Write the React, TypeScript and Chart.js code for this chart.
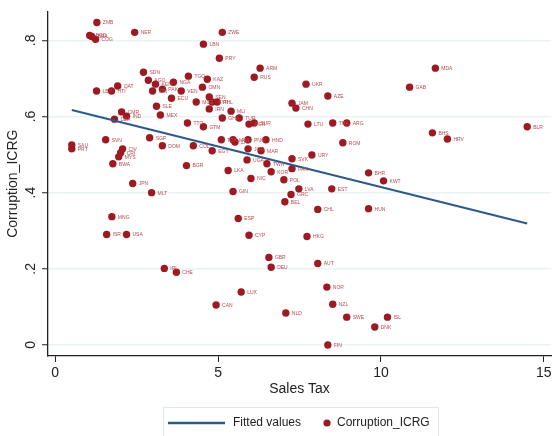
import { useEffect, useRef } from 'react';
import { Chart, registerables } from 'chart.js';
Chart.register(...registerables);

const countries = [
  'ZMB', 'BGD', 'BRA', 'COG', 'NER', 'ZWE', 'LBN', 'PRY', 'ARM', 'RUS',
  'UKR', 'AZE', 'MDA', 'GAB', 'BHS', 'HRV', 'BLR', 'SDN', 'AGO', 'KEN',
  'IDN', 'PAK', 'NGA', 'VEN', 'TGO', 'KAZ', 'OMN', 'ECU', 'SLE', 'MEX',
  'MOZ', 'SEN', 'SYR', 'PHL', 'IRN', 'MLI', 'GHA', 'TUR', 'PER', 'SUR',
  'TTO', 'GTM', 'IND', 'CMR', 'DZA', 'LBY', 'HTI', 'QAT', 'SVN', 'SGP',
  'SAU', 'PRT', 'CIV', 'CRI', 'MYS', 'BWA', 'JPN', 'MLT', 'MNG', 'ISR',
  'USA', 'IRL', 'CHE', 'DOM', 'COL', 'EGY', 'TZA', 'MWI', 'ZAF', 'PNG',
  'HND', 'JOR', 'MAR', 'UGA', 'TWN', 'BGR', 'LKA', 'NIC', 'KOR', 'POL',
  'SVK', 'PAN', 'URY', 'GIN', 'LVA', 'GRC', 'BEL', 'EST', 'CHL', 'ESP',
  'CYP', 'HKG', 'GBR', 'DEU', 'AUT', 'NOR', 'LUX', 'CAN', 'NLD', 'NZL',
  'SWE', 'FIN', 'DNK', 'ISL', 'BHR', 'KWT', 'HUN', 'LTU', 'THA', 'ARG',
  'ROM', 'JAM', 'CHN',
];

const salesTax = [
  1.28, 1.06, 1.12, 1.24, 2.44, 5.13, 4.55, 5.04, 6.29, 6.11,
  7.70, 8.37, 11.67, 10.88, 11.58, 12.04, 14.49, 2.71, 2.86, 3.08,
  2.99, 3.29, 3.63, 3.87, 4.09, 4.67, 4.52, 3.57, 3.11, 3.23,
  4.33, 4.73, 4.82, 4.97, 4.73, 5.40, 5.13, 5.65, 5.95, 6.11,
  4.06, 4.55, 2.19, 2.04, 1.82, 1.27, 1.73, 1.92, 1.55, 2.90,
  0.51, 0.51, 2.07, 2.01, 1.95, 1.77, 2.38, 2.96, 1.74, 1.58,
  2.19, 3.35, 3.72, 3.29, 4.24, 4.82, 5.10, 5.46, 5.52, 5.92,
  6.47, 5.92, 6.32, 5.89, 6.50, 4.03, 5.31, 6.01, 6.63, 7.02,
  7.27, 7.27, 7.88, 5.46, 7.48, 7.24, 7.05, 8.49, 8.06, 5.62,
  5.95, 7.73, 6.56, 6.63, 8.06, 8.34, 5.71, 4.94, 7.08, 8.52,
  8.95, 8.37, 9.81, 10.20, 9.62, 10.08, 9.62, 7.76, 8.52, 8.95,
  8.83, 7.27, 7.39,
];

const corruption = [
  0.847, 0.813, 0.810, 0.803, 0.821, 0.821, 0.790, 0.753, 0.727, 0.703,
  0.685, 0.654, 0.727, 0.677, 0.557, 0.541, 0.573, 0.716, 0.695, 0.685,
  0.667, 0.672, 0.690, 0.667, 0.706, 0.698, 0.677, 0.648, 0.627, 0.604,
  0.638, 0.651, 0.638, 0.638, 0.620, 0.614, 0.596, 0.596, 0.580, 0.583,
  0.583, 0.573, 0.601, 0.612, 0.593, 0.667, 0.667, 0.680, 0.539, 0.544,
  0.525, 0.515, 0.515, 0.505, 0.494, 0.476, 0.424, 0.400, 0.337, 0.290,
  0.290, 0.201, 0.191, 0.523, 0.523, 0.510, 0.539, 0.539, 0.533, 0.539,
  0.539, 0.515, 0.510, 0.486, 0.476, 0.471, 0.458, 0.437, 0.455, 0.434,
  0.489, 0.463, 0.499, 0.403, 0.410, 0.395, 0.376, 0.410, 0.356, 0.332,
  0.288, 0.285, 0.230, 0.204, 0.214, 0.152, 0.139, 0.105, 0.084, 0.107,
  0.073, 0.000, 0.047, 0.073, 0.452, 0.431, 0.358, 0.580, 0.583, 0.583,
  0.531, 0.635, 0.622,
];

const fitX = [0.51, 14.49];
const fitY = [0.617, 0.319];

const xTicks = [0, 5, 10, 15];
const yTicks = [0, 0.2, 0.4, 0.6, 0.8];
const yTickLabels = ['0', '.2', '.4', '.6', '.8'];

const FONT = '"Liberation Sans", Arial, sans-serif';
const RED = '#9e1a22';
const BLUE = '#2a5a8c';
const INK = '#222222';

const pointLabels = {
  id: 'pointLabels',
  afterDatasetsDraw(chart: any) {
    const meta = chart.getDatasetMeta(1);
    const ctx = chart.ctx;
    ctx.save();
    ctx.font = `5px ${FONT}`;
    ctx.fillStyle = '#b54a50';
    ctx.textBaseline = 'middle';
    ctx.textAlign = 'left';
    meta.data.forEach((el: any, i: number) => {
      ctx.fillText(countries[i], el.x + 6, el.y + 0.5);
    });
    ctx.restore();
  },
};

const rotatedYTicks = {
  id: 'rotatedYTicks',
  afterDraw(chart: any) {
    const s = chart.scales.y;
    const ctx = chart.ctx;
    ctx.save();
    ctx.font = `14px ${FONT}`;
    ctx.fillStyle = INK;
    ctx.textAlign = 'center';
    ctx.textBaseline = 'middle';
    yTicks.forEach((v, i) => {
      ctx.save();
      ctx.translate(31, s.getPixelForValue(v));
      ctx.rotate(-Math.PI / 2);
      ctx.fillText(yTickLabels[i], 0, 0);
      ctx.restore();
    });
    ctx.restore();
  },
};

const boxLegend = {
  id: 'boxLegend',
  afterDraw(chart: any) {
    const ctx = chart.ctx;
    const ds = chart.data.datasets;
    ctx.save();
    ctx.strokeStyle = '#dbe7ea';
    ctx.lineWidth = 1;
    ctx.strokeRect(163.5, 407.5, 275, 34);
    const y = 423;
    ctx.strokeStyle = ds[0].borderColor;
    ctx.lineWidth = 2.5;
    ctx.beginPath();
    ctx.moveTo(168, y);
    ctx.lineTo(225, y);
    ctx.stroke();
    ctx.font = `12px ${FONT}`;
    ctx.fillStyle = INK;
    ctx.textBaseline = 'middle';
    ctx.textAlign = 'left';
    ctx.fillText(ds[0].label, 233, y);
    ctx.fillStyle = ds[1].backgroundColor;
    ctx.beginPath();
    ctx.arc(327, y, 3.6, 0, Math.PI * 2);
    ctx.fill();
    ctx.fillStyle = INK;
    ctx.fillText(ds[1].label, 337, y);
    ctx.restore();
  },
};

export default function App() {
  const ref = useRef<HTMLCanvasElement | null>(null);

  useEffect(() => {
    if (!ref.current) return;
    const chart = new Chart(ref.current, {
      type: 'scatter',
      data: {
        datasets: [
          {
            type: 'line',
            label: 'Fitted values',
            data: fitX.map((x, i) => ({ x, y: fitY[i] })),
            borderColor: BLUE,
            backgroundColor: BLUE,
            borderWidth: 2,
            pointRadius: 0,
            showLine: true,
          },
          {
            type: 'scatter',
            label: 'Corruption_ICRG',
            data: salesTax.map((x, i) => ({ x, y: corruption[i] })),
            backgroundColor: RED,
            borderColor: RED,
            pointRadius: 3.7,
            borderWidth: 0,
          },
        ],
      },
      options: {
        responsive: false,
        animation: false,
        events: [],
        layout: { padding: { left: 0, top: 10, right: 2, bottom: 36 } },
        plugins: {
          legend: { display: false },
          tooltip: { enabled: false },
        },
        scales: {
          x: {
            type: 'linear',
            min: -0.22,
            max: 15.22,
            afterBuildTicks: (s: any) => {
              s.ticks = xTicks.map((v) => ({ value: v }));
            },
            afterFit: (s: any) => {
              s.height = 44;
            },
            grid: {
              drawOnChartArea: false,
              drawTicks: true,
              tickLength: 6,
              tickColor: INK,
              tickWidth: 1,
            },
            border: { display: true, color: INK, width: 1.3 },
            ticks: {
              color: INK,
              font: { family: FONT, size: 14 },
              padding: 3,
              maxRotation: 0,
              callback: (v: any) => String(v),
            },
            title: {
              display: true,
              text: 'Sales Tax',
              color: INK,
              font: { family: FONT, size: 14 },
              padding: { top: 0, bottom: 2 },
            },
          },
          y: {
            type: 'linear',
            min: -0.029,
            max: 0.876,
            afterBuildTicks: (s: any) => {
              s.ticks = yTicks.map((v) => ({ value: v }));
            },
            afterFit: (s: any) => {
              s.width = 48;
            },
            grid: {
              color: '#eaf2f3',
              lineWidth: 1.5,
              drawTicks: true,
              tickLength: 6,
              tickColor: INK,
              tickWidth: 1,
            },
            border: { display: true, color: INK, width: 1.3 },
            ticks: {
              color: 'rgba(0,0,0,0)',
              font: { family: FONT, size: 14 },
            },
            title: {
              display: true,
              text: 'Corruption_ICRG',
              color: INK,
              font: { family: FONT, size: 14 },
              padding: { top: 4.5, bottom: 0 },
            },
          },
        },
      },
      plugins: [pointLabels, rotatedYTicks, boxLegend],
    } as any);
    return () => chart.destroy();
  }, []);

  return (
    <div style={{ position: 'fixed', left: 0, top: 0, width: 555, height: 436 }}>
      <canvas ref={ref} width={555} height={436} />
    </div>
  );
}
